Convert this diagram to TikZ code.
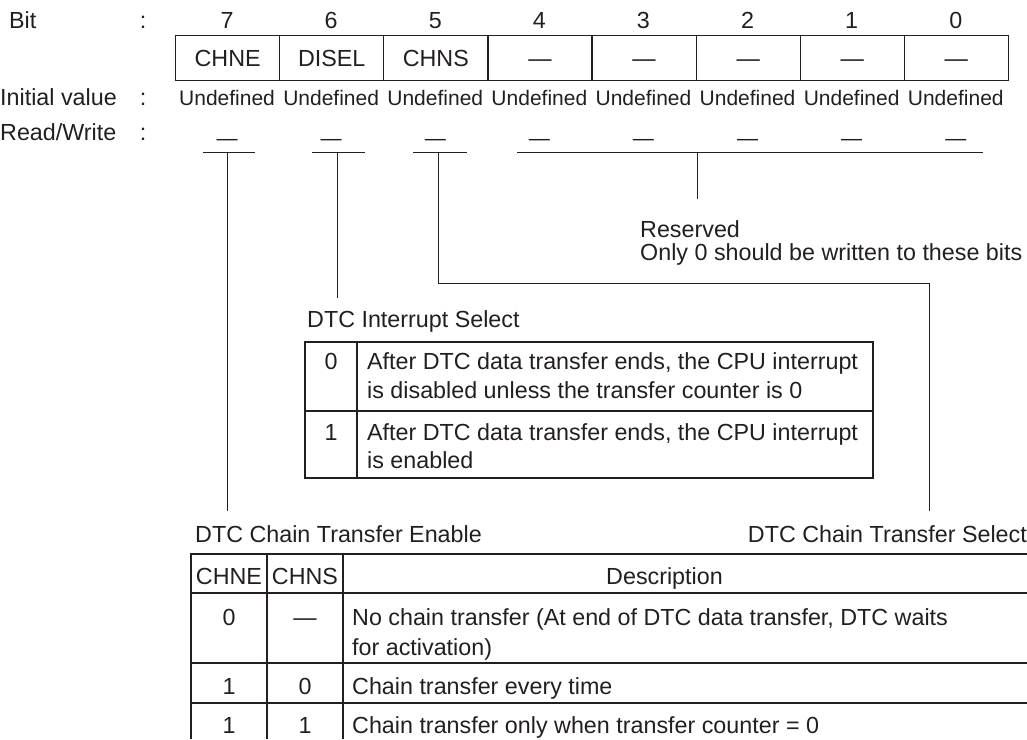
\documentclass[tikz,border=0pt]{standalone}
\usepackage{fontspec}
\setmainfont{Liberation Sans}
\usepackage{xcolor}
\definecolor{ink}{RGB}{35,31,32}
\newcommand{\regfont}{\fontsize{23.3}{28}\selectfont}
\newcommand{\valfont}{\fontsize{21}{25}\selectfont}

\begin{document}
\begin{tikzpicture}[x=1pt,y=-1pt,
  every node/.style={inner sep=0pt,text=ink,font=\regfont},
  val/.style={font=\valfont},
  cell/.style={draw=ink,line width=1.2pt,minimum width=104.1pt,minimum height=45pt,
    text height=17pt,text depth=0pt},
  rule/.style={draw=ink,line width=1pt},
  frame/.style={draw=ink,line width=1.2pt}]

\useasboundingbox (0,0) rectangle (1027,739);

\node[anchor=base west] (bit) at (9,28.5) {Bit};
\node[anchor=base west] (init) at (0,105) {Initial value};
\node[anchor=base west] (rw) at (0,140) {Read/Write};
\node[anchor=base] (c1) at (143,28.5) {:};
\node[anchor=base] (c2) at (143,105) {:};
\node[anchor=base] (c3) at (143,140) {:};

\foreach \n/\f [count=\i from 0] in {7/CHNE,6/DISEL,5/CHNS,4/\textemdash,3/\textemdash,2/\textemdash,1/\textemdash,0/\textemdash}{
  \node[anchor=base] (n\n) at (227.05+104.1*\i,28.5) {\n};
  \node[cell,anchor=north west] (r\n) at (175+104.1*\i,35) {\f};
  \node[val,anchor=base] (v\n) at (227.05+104.1*\i,105) {Undefined};
  \node[val,anchor=base] (w\n) at (227.05+104.1*\i,145) {\textemdash};
}

\coordinate (a7) at (203,152);
\coordinate (b7) at (255,152);
\coordinate (a6) at (312,152);
\coordinate (b6) at (365,152);
\coordinate (a5) at (413,152);
\coordinate (b5) at (467,152);
\coordinate (a0) at (517,152);
\coordinate (b0) at (983,152);

\coordinate (t7) at (227,152);
\coordinate (e7) at (227,511);
\coordinate (t6) at (337,152);
\coordinate (e6) at (337,298);
\coordinate (t5) at (438,152);
\coordinate (k5) at (929,283);
\coordinate (e5) at (929,511);
\coordinate (t0) at (697,152);
\coordinate (e0) at (697,199);

\draw[rule] (a7) -- (b7);
\draw[rule] (a6) -- (b6);
\draw[rule] (a5) -- (b5);
\draw[rule] (a0) -- (b0);
\draw[rule] (t7) -- (e7);
\draw[rule] (t6) -- (e6);
\draw[rule] (t5) |- (k5) -- (e5);
\draw[rule] (t0) -- (e0);

\node[anchor=base west] (res) at (640,237) {Reserved};
\node[anchor=base west] (only) at (640,260) {Only 0 should be written to these bits};

\node[anchor=base west] (dis) at (307,327) {DTC Interrupt Select};
\draw[frame] (305,342) rectangle (873,478);
\draw[frame] (305,411) -- (873,411);
\draw[frame] (357,342) -- (357,478);
\node[anchor=base] (d0) at (331,369) {0};
\node[anchor=base west] (d0a) at (367,369) {After DTC data transfer ends, the CPU interrupt};
\node[anchor=base west] (d0b) at (367,398) {is disabled unless the transfer counter is 0};
\node[anchor=base] (d1) at (331,440) {1};
\node[anchor=base west] (d1a) at (367,440) {After DTC data transfer ends, the CPU interrupt};
\node[anchor=base west] (d1b) at (367,468) {is enabled};

\node[anchor=base west] (chne) at (195,542) {DTC Chain Transfer Enable};
\node[anchor=base east] (chns) at (1027,542) {DTC Chain Transfer Select};

\draw[frame] (1027,554) -- (191,554) -- (191,739);
\draw[frame] (267,554) -- (267,739);
\draw[frame] (343,554) -- (343,739);
\foreach \y in {593,663,703}
  \draw[frame] (191,\y) -- (1027,\y);

\node[anchor=base] (h1) at (229,584) {CHNE};
\node[anchor=base] (h2) at (305,584) {CHNS};
\node[anchor=base] (h3) at (664.5,584) {Description};
\node[anchor=base] (p1) at (229,625) {0};
\node[anchor=base] (q1) at (305,625) {\textemdash};
\node[anchor=base west] (s1) at (352,625) {No chain transfer (At end of DTC data transfer, DTC waits};
\node[anchor=base west] (s1b) at (352,655) {for activation)};
\node[anchor=base] (p2) at (229,694) {1};
\node[anchor=base] (q2) at (305,694) {0};
\node[anchor=base west] (s2) at (352,694) {Chain transfer every time};
\node[anchor=base] (p3) at (229,733) {1};
\node[anchor=base] (q3) at (305,733) {1};
\node[anchor=base west] (s3) at (352,733) {Chain transfer only when transfer counter = 0};
\end{tikzpicture}
\end{document}
